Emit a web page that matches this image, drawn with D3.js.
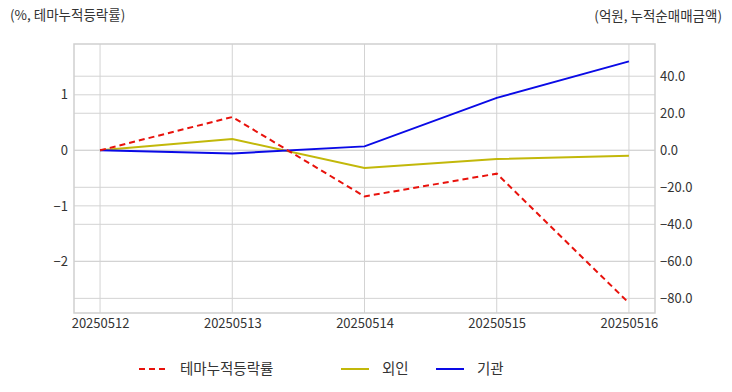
<!DOCTYPE html>
<html><head><meta charset="utf-8">
<script src="https://cdn.jsdelivr.net/npm/d3@7"></script>
<style>
body{margin:0;background:#fff;}
text{font-family:"Noto Sans CJK KR","Noto Sans",sans-serif;fill:#333;}
</style></head><body>
<svg id="c" width="732" height="392"></svg>
<script>
const dates = ["20250512","20250513","20250514","20250515","20250516"];
const themeRate = [0, 0.60, -0.83, -0.42, -2.75];
const foreign = [0, 6.1, -9.6, -4.7, -2.9];
const institution = [0, -1.7, 2.1, 28.3, 48.0];
const leftTicks = [1, 0, -1, -2];
const rightTicks = [40, 20, 0, -20, -40, -60, -80];
const leftTitle = "(%, 테마누적등락률)";
const rightTitle = "(억원, 누적순매매금액)";
const legendNames = ["테마누적등락률", "외인", "기관"];

const svg = d3.select("#c");
const L = 74, R = 655, T = 44, B = 313;
const x = d3.scalePoint().domain(dates).range([L, R]).padding(0.197);
const yL = d3.scaleLinear().domain([-2.93, 1.915]).range([B, T]);
const yR = d3.scaleLinear().domain([-87.9, 57.4]).range([B, T]);

const grid = svg.append("g").attr("stroke", "#d3d3d3").attr("stroke-width", 1);
dates.forEach(d => grid.append("line").attr("x1", x(d)).attr("x2", x(d)).attr("y1", T).attr("y2", B));
leftTicks.forEach(v => grid.append("line").attr("x1", L).attr("x2", R).attr("y1", yL(v)).attr("y2", yL(v)));
rightTicks.forEach(v => grid.append("line").attr("x1", L).attr("x2", R).attr("y1", yR(v)).attr("y2", yR(v)));
svg.append("rect").attr("x", L).attr("y", T).attr("width", R - L).attr("height", B - T)
  .attr("fill", "none").attr("stroke", "#cfcfcf").attr("stroke-width", 1.5);

const axL = svg.append("g").attr("transform", `translate(${L},0)`)
  .call(d3.axisLeft(yL).tickValues(leftTicks).tickSize(0).tickPadding(6).tickFormat(d3.format("d")));
const axR = svg.append("g").attr("transform", `translate(${R},0)`)
  .call(d3.axisRight(yR).tickValues(rightTicks).tickSize(0).tickPadding(5).tickFormat(d3.format(".1f")));
const axB = svg.append("g").attr("transform", `translate(0,${B})`)
  .call(d3.axisBottom(x).tickSize(0).tickPadding(6));
[axL, axR, axB].forEach(a => { a.select(".domain").remove(); a.selectAll("text").attr("font-size", 13).attr("fill", "#333").style("font-family", '"Noto Sans CJK KR","Noto Sans",sans-serif'); });

const lineL = d3.line().x((d, i) => x(dates[i])).y(d => yL(d));
const lineR = d3.line().x((d, i) => x(dates[i])).y(d => yR(d));
svg.append("path").attr("d", lineR(foreign)).attr("fill", "none").attr("stroke", "#c2b80a").attr("stroke-width", 2);
svg.append("path").attr("d", lineR(institution)).attr("fill", "none").attr("stroke", "#0a0ae6").attr("stroke-width", 2);
svg.append("path").attr("d", lineL(themeRate)).attr("fill", "none").attr("stroke", "#e8120c").attr("stroke-width", 2).attr("stroke-dasharray", "6,4");

svg.append("text").attr("x", 10).attr("y", 20).attr("font-size", 13.5).text(leftTitle);
svg.append("text").attr("x", 722).attr("y", 21).attr("font-size", 13.5).attr("text-anchor", "end").text(rightTitle);

const leg = [{x: 139, c: "#e8120c", dash: "6,4"}, {x: 341, c: "#c2b80a", dash: null}, {x: 436, c: "#0a0ae6", dash: null}];
leg.forEach((l, i) => {
  svg.append("line").attr("x1", l.x).attr("x2", l.x + 28).attr("y1", 369).attr("y2", 369)
    .attr("stroke", l.c).attr("stroke-width", 2).attr("stroke-dasharray", l.dash);
  svg.append("text").attr("x", l.x + 41).attr("y", 374).attr("font-size", 14.5).text(legendNames[i]);
});
</script></body></html>
